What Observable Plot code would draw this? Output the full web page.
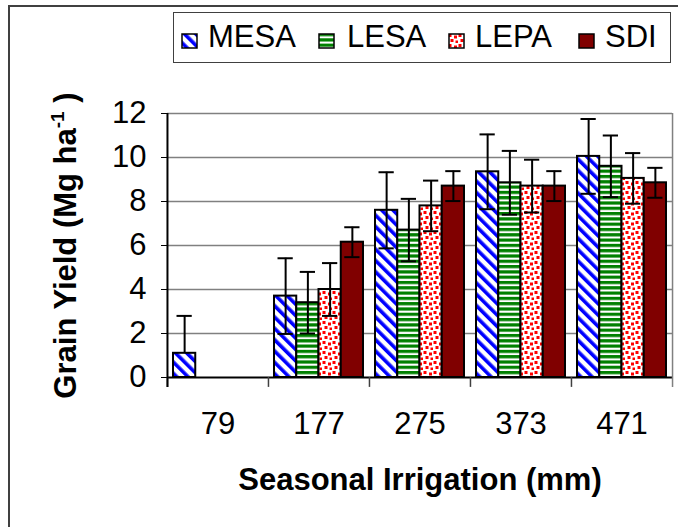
<!DOCTYPE html>
<html>
<head>
<meta charset="utf-8">
<script src="https://cdn.jsdelivr.net/npm/d3@7"></script>
<script src="https://cdn.jsdelivr.net/npm/@observablehq/plot@0.6"></script>
<style>
  body { margin: 0; background: #fff; }
  #wrap { position: relative; width: 678px; height: 527px; overflow: hidden; font-family: "Liberation Sans", Arial, sans-serif; background: #fff; }
  #chart { position: absolute; left: 0; top: 0; }
  #outer { position: absolute; left: 8px; top: 5px; width: 720px; height: 600px; border-left: 2px solid #404040; border-top: 2px solid #404040; pointer-events: none; }
  #legend { position: absolute; left: 173px; top: 12px; width: 496px; height: 49px; border: 1.5px solid #404040; background: #fff; }
  .sw { position: absolute; top: 20px; width: 17px; height: 16px; }
  .lt { position: absolute; top: 6px; font-size: 31px; line-height: 36px; color: #000; white-space: nowrap; }
</style>
</head>
<body>
<svg width="0" height="0" style="position:absolute">
  <defs>
    <pattern id="pat-MESA" patternUnits="userSpaceOnUse" width="8" height="8" patternTransform="rotate(-45)">
      <rect width="8" height="8" fill="#fff"/>
      <rect x="0" width="3.6" height="8" fill="#0000ff"/>
    </pattern>
    <pattern id="pat-LESA" patternUnits="userSpaceOnUse" width="5.3" height="5.3">
      <rect width="5.3" height="5.3" fill="#fff"/>
      <rect y="0" width="5.3" height="3.2" fill="#008000"/>
    </pattern>
    <pattern id="pat-LEPA" patternUnits="userSpaceOnUse" width="10" height="10">
      <rect width="10" height="10" fill="#fff"/>
      <rect x="0.5" y="1" width="3" height="3" fill="#ff0000"/>
      <rect x="6" y="2.5" width="3" height="3" fill="#ff0000"/>
      <rect x="2.5" y="6" width="3" height="3" fill="#ff0000"/>
      <rect x="7.5" y="7.5" width="2.5" height="2.5" fill="#ff0000"/>
    </pattern>
    <pattern id="pat-SDI" patternUnits="userSpaceOnUse" width="4" height="4">
      <rect width="4" height="4" fill="#800000"/>
    </pattern>
  </defs>
</svg>
<div id="wrap">
  <div id="chart"></div>
  <div id="outer"></div>
  <div id="legend"></div>
</div>
<script>
// ---- data ----
const irrigation = ["79", "177", "275", "373", "471"];
const systems = ["MESA", "LESA", "LEPA", "SDI"];
const mesaYield = [1.1, 3.7, 7.6, 9.35, 10.05];
const lesaYield = [null, 3.4, 6.7, 8.85, 9.6];
const lepaYield = [null, 4.0, 7.8, 8.7, 9.05];
const sdiYield  = [null, 6.15, 8.7, 8.7, 8.85];
const mesaErr = [1.7, 1.72, 1.73, 1.7, 1.7];
const lesaErr = [null, 1.4, 1.42, 1.45, 1.4];
const lepaErr = [null, 1.2, 1.15, 1.2, 1.15];
const sdiErr  = [null, 0.68, 0.68, 0.68, 0.68];
const yTicks = [0, 2, 4, 6, 8, 10, 12];
const gridTicks = [2, 4, 6, 8, 10, 12];
const xTitle = "Seasonal Irrigation (mm)";
const yTitle = "Grain Yield (Mg ha";

const yields = [mesaYield, lesaYield, lepaYield, sdiYield];
const errs = [mesaErr, lesaErr, lepaErr, sdiErr];
const patterns = systems.map(s => `url(#pat-${s})`);

const data = [];
irrigation.forEach((irr, i) => systems.forEach((s, k) => {
  const v = yields[k][i];
  if (v == null) return;
  const e = errs[k][i];
  const lo = v - e;
  data.push({irr, system: s, value: v, hi: v + e, lo: lo >= 0 ? lo : null, from: lo >= 0 ? lo : v});
}));

// layout constants
const W = 678, H = 527, mL = 166, mR = 6, mT = 113, mB = 150;
const fw = (W - mL - mR) / irrigation.length;
const po = 0.27;
const bw = fw / (systems.length + 2 * po);
const edge = bw * (po + 0.5);
const below = -0.45;

const plot = Plot.plot({
  width: W, height: H,
  marginLeft: mL, marginRight: mR, marginTop: mT, marginBottom: mB,
  style: {fontFamily: '"Liberation Sans", Arial, sans-serif', fontSize: "31px", background: "transparent", color: "#000", overflow: "visible"},
  fx: {domain: irrigation, padding: 0, label: xTitle, labelAnchor: "center", labelOffset: 112, tickSize: 0, tickPadding: 34},
  x: {domain: systems, paddingInner: 0, paddingOuter: po, round: false, axis: null},
  y: {domain: [0, 12], ticks: yTicks, tickSize: 6, tickPadding: 15, label: yTitle, labelAnchor: "center", labelOffset: 114, labelArrow: "none"},
  color: {domain: systems, range: patterns},
  marks: [
    Plot.ruleY(gridTicks, {stroke: "#808080", strokeWidth: 1.5, strokeOpacity: 1}),
    Plot.barY(data, {fx: "irr", x: "system", y: "value", fill: "system", stroke: "#000", strokeWidth: 2}),
    Plot.ruleX(data, {fx: "irr", x: "system", y1: "from", y2: "hi", stroke: "#000", strokeWidth: 2}),
    Plot.tickY(data, {fx: "irr", x: "system", y: "hi", stroke: "#000", strokeWidth: 2, insetLeft: 3.5, insetRight: 3.5}),
    Plot.tickY(data.filter(d => d.lo != null), {fx: "irr", x: "system", y: "lo", stroke: "#000", strokeWidth: 2, insetLeft: 3.5, insetRight: 3.5}),
    Plot.ruleY([0], {stroke: "#000", strokeWidth: 2}),
    Plot.ruleX(irrigation, {fx: d => d, x: () => systems[0], dx: -edge, y1: 0, y2: below, stroke: "#404040", strokeWidth: 1.5}),
    Plot.ruleX(irrigation.slice(-1), {fx: d => d, x: () => systems[systems.length - 1], dx: edge, y1: 12, y2: below, stroke: "#808080", strokeWidth: 1.5}),
    Plot.ruleX(irrigation.slice(0, 1), {fx: d => d, x: () => systems[0], dx: -edge, y1: 12, y2: below, stroke: "#000", strokeWidth: 2})
  ]
});
document.getElementById("chart").appendChild(plot);

// bold axis titles, superscript in y title
plot.querySelectorAll('[aria-label$="axis label"] text').forEach(t => {
  t.setAttribute("font-weight", "bold");
});
const yl = plot.querySelector('[aria-label="y-axis label"] text');
if (yl) {
  yl.textContent = "";
  const ns = "http://www.w3.org/2000/svg";
  const a = document.createElementNS(ns, "tspan"); a.textContent = yTitle; yl.appendChild(a);
  const b = document.createElementNS(ns, "tspan"); b.textContent = "-1"; b.setAttribute("font-size", "19px"); b.setAttribute("dy", "-12"); yl.appendChild(b);
  const c = document.createElementNS(ns, "tspan"); c.textContent = " )"; c.setAttribute("dy", "12"); yl.appendChild(c);
}

// legend
const legend = document.getElementById("legend");
const swX = [7, 144, 274, 404];
const txX = [34, 173, 301, 431];
systems.forEach((s, k) => {
  const sw = document.createElementNS("http://www.w3.org/2000/svg", "svg");
  sw.setAttribute("class", "sw"); sw.setAttribute("width", 17); sw.setAttribute("height", 16);
  sw.style.left = swX[k] + "px";
  sw.innerHTML = `<rect x="1" y="1" width="15" height="14" fill="${patterns[k]}" stroke="#000" stroke-width="1.5"/>`;
  legend.appendChild(sw);
  const t = document.createElement("div");
  t.className = "lt"; t.style.left = txX[k] + "px"; t.textContent = s;
  legend.appendChild(t);
});
</script>
</body>
</html>
